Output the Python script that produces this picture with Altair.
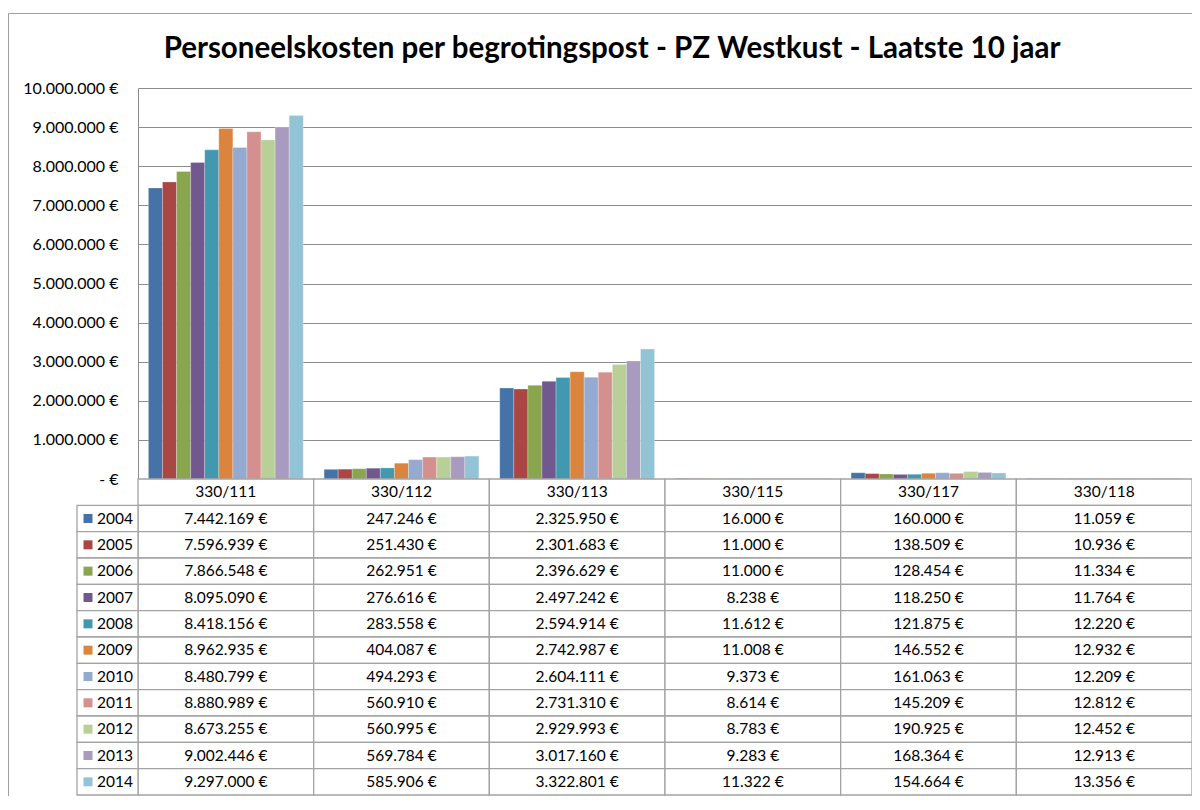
import altair as alt
import pandas as pd

categories = ["330/111", "330/112", "330/113", "330/115", "330/117", "330/118"]
years = ["2004", "2005", "2006", "2007", "2008", "2009", "2010", "2011", "2012", "2013", "2014"]
colors = ["#4572A7", "#AA4643", "#89A54E", "#71588F", "#4198AF", "#DB843D",
          "#95AAD0", "#D4908F", "#B9CF98", "#A99BBF", "#93C4D6"]

v_111 = [7442169, 7596939, 7866548, 8095090, 8418156, 8962935, 8480799, 8880989, 8673255, 9002446, 9297000]
v_112 = [247246, 251430, 262951, 276616, 283558, 404087, 494293, 560910, 560995, 569784, 585906]
v_113 = [2325950, 2301683, 2396629, 2497242, 2594914, 2742987, 2604111, 2731310, 2929993, 3017160, 3322801]
v_115 = [16000, 11000, 11000, 8238, 11612, 11008, 9373, 8614, 8783, 9283, 11322]
v_117 = [160000, 138509, 128454, 118250, 121875, 146552, 161063, 145209, 190925, 168364, 154664]
v_118 = [11059, 10936, 11334, 11764, 12220, 12932, 12209, 12812, 12452, 12913, 13356]

series = [v_111, v_112, v_113, v_115, v_117, v_118]
rows_domain = ["hdr"] + years

FONT = "Lato"
GRID = "#8c8c8c"
CELL = "#a3a3a3"
TXT = 15.5


def eur(v):
    return f"{v:,}".replace(",", ".") + " €"


recs = []
for cat, vals in zip(categories, series):
    for yr, v in zip(years, vals):
        recs.append({"cat": cat, "year": yr, "row": yr, "value": v, "label": eur(v)})
df = pd.DataFrame(recs)

hdr = pd.DataFrame({"cat": categories, "row": ["hdr"] * len(categories), "label": categories})
cells = pd.concat([hdr, df[["cat", "row", "label"]]], ignore_index=True)
leg = pd.DataFrame({"year": years, "row": years})
frame_df = pd.DataFrame({"k": [0]})

x_scale = alt.Scale(domain=categories, paddingInner=0, paddingOuter=0)
color_scale = alt.Scale(domain=years, range=colors)
y_tab = alt.Scale(domain=rows_domain, range=[391, 707], paddingInner=0, paddingOuter=0)

frame_left = alt.Chart(frame_df).mark_rule(stroke="#a0a0a0", strokeWidth=1).encode(
    x=alt.value(-129.5), y=alt.value(-74.5), y2=alt.value(760)
)
frame_top = alt.Chart(frame_df).mark_rule(stroke="#a0a0a0", strokeWidth=1).encode(
    x=alt.value(-129.5), x2=alt.value(1100), y=alt.value(-74.5)
)

bars = alt.Chart(df).mark_bar(stroke="white", strokeWidth=0.5, strokeOpacity=0.5).encode(
    x=alt.X("cat:N", scale=x_scale, axis=None),
    xOffset=alt.XOffset("year:N", scale=alt.Scale(domain=years, paddingInner=0, paddingOuter=0.74)),
    y=alt.Y("value:Q",
            scale=alt.Scale(domain=[0, 10000000], range=[391, 0], nice=False),
            axis=alt.Axis(
                title=None, values=list(range(0, 10000001, 1000000)),
                grid=True, gridColor=GRID, gridWidth=1,
                domain=True, domainColor=GRID, ticks=False,
                labelPadding=20, labelFont=FONT, labelFontSize=16, labelColor="black",
                labelExpr="datum.value == 0 ? '- €' : replace(format(datum.value, ',.0f'), regexp(',', 'g'), '.') + ' €'",
            )),
    color=alt.Color("year:N", scale=color_scale, legend=None),
)

cell_rects = alt.Chart(cells).mark_rect(fill="white", stroke=CELL, strokeWidth=1.3).encode(
    x=alt.X("cat:N", scale=x_scale, axis=None),
    y=alt.Y("row:N", scale=y_tab, axis=None),
)

cell_text = alt.Chart(cells).mark_text(font=FONT, fontSize=TXT, color="black").encode(
    x=alt.X("cat:N", scale=x_scale, axis=None),
    y=alt.Y("row:N", scale=y_tab, axis=None),
    text="label:N",
)

leg_rects = alt.Chart(leg).mark_rect(fill="white", stroke=CELL, strokeWidth=1.3).encode(
    x=alt.value(-61), x2=alt.value(0),
    y=alt.Y("row:N", scale=y_tab, axis=None),
)

leg_sq = alt.Chart(leg).mark_square(size=81, opacity=1).encode(
    x=alt.value(-50),
    y=alt.Y("row:N", scale=y_tab, axis=None),
    color=alt.Color("year:N", scale=color_scale, legend=None),
)

leg_text = alt.Chart(leg).mark_text(font=FONT, fontSize=TXT, color="black", align="left").encode(
    x=alt.value(-41),
    y=alt.Y("row:N", scale=y_tab, axis=None),
    text="year:N",
)

table = alt.layer(cell_rects, cell_text, leg_rects, leg_sq, leg_text)

chart = alt.layer(frame_left, frame_top, bars, table).resolve_scale(y="independent").properties(
    width=1054, height=702,
    padding={"left": 130, "top": 80, "right": 0, "bottom": 6},
    autosize=alt.AutoSizeParams(type="none"),
    title=alt.Title(
        "Personeelskosten per begrotingspost - PZ Westkust - Laatste 10 jaar",
        font=FONT, fontSize=29.5, fontWeight="bold", color="black",
        anchor="middle", offset=-51, dx=-53,
    ),
).configure_view(stroke=None)

chart.save("out.html", embed_options={"renderer": "svg", "actions": False})
